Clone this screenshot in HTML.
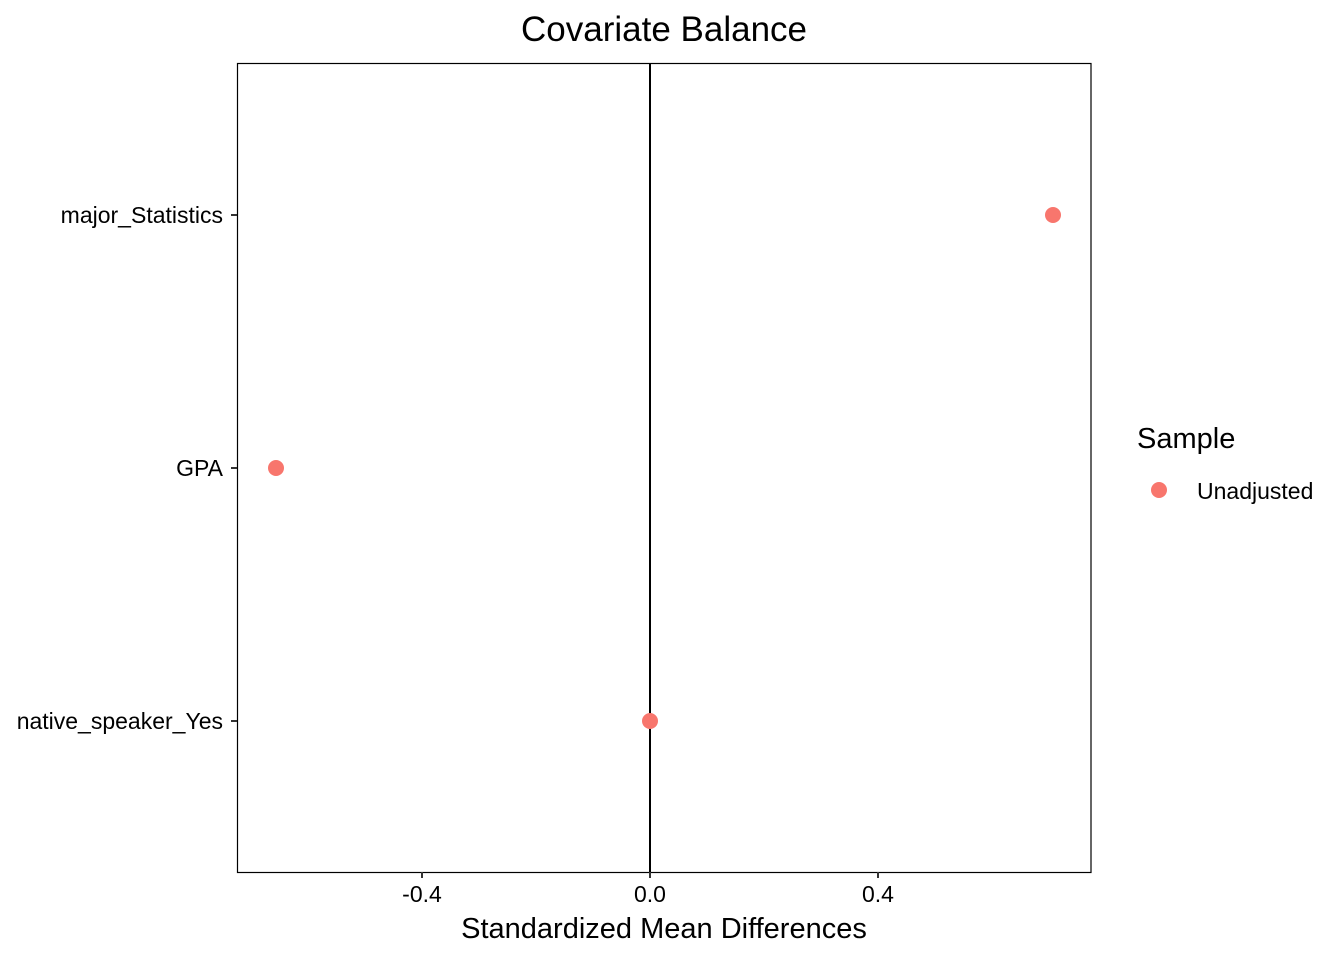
<!DOCTYPE html>
<html><head><meta charset="utf-8"><style>
html,body{margin:0;padding:0;background:#fff;}
svg{display:block;font-family:"Liberation Sans",Arial,sans-serif;}
</style></head><body>
<svg width="1344" height="960" viewBox="0 0 1344 960" xmlns="http://www.w3.org/2000/svg">
<rect width="1344" height="960" fill="#fff"/>
<text x="664" y="41" font-size="35" text-anchor="middle" fill="#000">Covariate Balance</text>
<rect x="237.5" y="63.5" width="853.5" height="809" fill="none" stroke="#000" stroke-width="1.2"/>
<line x1="650" y1="63" x2="650" y2="872" stroke="#000" stroke-width="2"/>
<g stroke="#333" stroke-width="2">
<line x1="231" y1="215" x2="237" y2="215"/>
<line x1="231" y1="468" x2="237" y2="468"/>
<line x1="231" y1="721" x2="237" y2="721"/>
<line x1="422" y1="872" x2="422" y2="878"/>
<line x1="650" y1="872" x2="650" y2="878"/>
<line x1="878" y1="872" x2="878" y2="878"/>
</g>
<g font-size="23" fill="#000" text-anchor="end">
<text x="223" y="223">major_Statistics</text>
<text x="223" y="476">GPA</text>
<text x="223" y="729">native_speaker_Yes</text>
</g>
<g font-size="23" fill="#000" text-anchor="middle">
<text x="422" y="902">-0.4</text>
<text x="650" y="902">0.0</text>
<text x="878" y="902">0.4</text>
</g>
<text x="664" y="938" font-size="29" text-anchor="middle" fill="#000">Standardized Mean Differences</text>
<g fill="#F8766D">
<circle cx="1053" cy="215" r="8"/>
<circle cx="276" cy="468" r="8"/>
<circle cx="650" cy="721" r="8"/>
<circle cx="1159" cy="490" r="8"/>
</g>
<text x="1137" y="448" font-size="29" fill="#000">Sample</text>
<text x="1197" y="499" font-size="23" fill="#000">Unadjusted</text>
</svg>
</body></html>
